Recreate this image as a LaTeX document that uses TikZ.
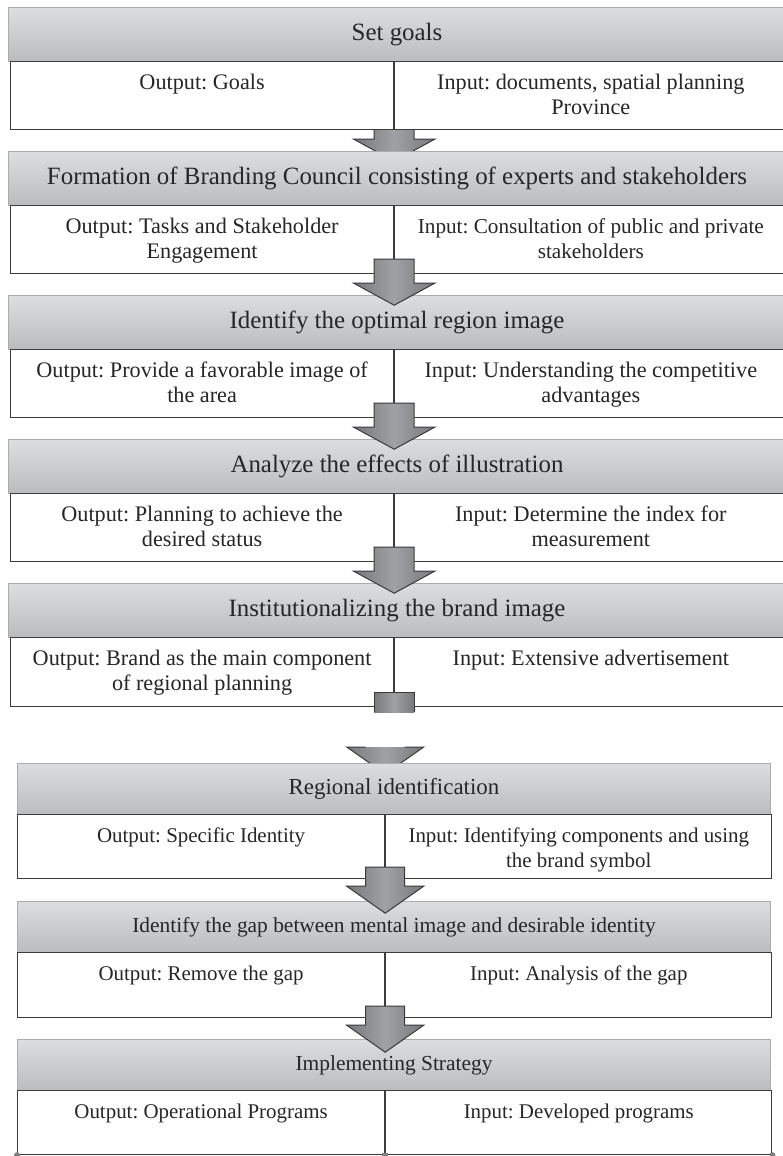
\documentclass[tikz,border=0pt]{standalone}
\usepackage{fontspec}
\setmainfont{Liberation Serif}
\frenchspacing
\usetikzlibrary{positioning,calc,backgrounds}

\definecolor{hdtop}{HTML}{DCDDDF}
\definecolor{hdbot}{HTML}{BBBCBE}
\definecolor{hdline}{HTML}{ABACAE}
\definecolor{boxline}{HTML}{3C3C3C}
\definecolor{arrside}{HTML}{78797C}
\definecolor{arrmid}{HTML}{A0A1A4}
\definecolor{arrline}{HTML}{3A3A3A}
\definecolor{inktext}{HTML}{262626}

\tikzset{
  head/.style={draw=hdline, line width=1bp, top color=hdtop, bottom color=hdbot,
    anchor=north west, inner sep=0pt, text=inktext},
  upperhead/.style={head, minimum width=777bp, minimum height=54bp,
    font=\fontsize{25}{27}\selectfont},
  lowerhead/.style={head, minimum width=753bp, minimum height=51bp,
    font=\fontsize{21.5}{24}\selectfont},
  halfbox/.style={draw=boxline, line width=1.2bp, fill=white, anchor=north west, inner sep=0pt},
  upleft/.style={halfbox, minimum width=383bp, minimum height=68bp},
  upright/.style={halfbox, minimum width=392bp, minimum height=68bp},
  lowleft/.style={halfbox, minimum width=367bp, minimum height=64bp},
  lowright/.style={halfbox, minimum width=386bp, minimum height=64bp},
  uptext/.style={anchor=north, align=center, inner sep=0pt, text=inktext,
    font=\fontsize{22.3}{25}\selectfont},
  lowtext/.style={anchor=north, align=center, inner sep=0pt, text=inktext,
    font=\fontsize{21}{25}\selectfont},
  blockarrow/.style={draw=arrline, line width=1bp, left color=arrside,
    right color=arrside, middle color=arrmid}
}

% block arrow hanging from the divider point of a row
\newcommand{\stepdownup}[1]{%
  \draw[blockarrow] ($(#1)+(-20,-15)$) -- ($(#1)+(20,-15)$) -- ($(#1)+(20,9)$)
    -- ($(#1)+(40.5,9)$) -- ($(#1)+(0,31)$) -- ($(#1)+(-40.5,9)$)
    -- ($(#1)+(-20,9)$) -- cycle;}
\newcommand{\stepdownlow}[1]{%
  \draw[blockarrow] ($(#1)+(-19.5,-12)$) -- ($(#1)+(19.5,-12)$) -- ($(#1)+(19.5,7)$)
    -- ($(#1)+(38.5,7)$) -- ($(#1)+(0,34)$) -- ($(#1)+(-38.5,7)$)
    -- ($(#1)+(-19.5,7)$) -- cycle;}

\begin{document}
\begin{tikzpicture}[x=1bp,y=-1bp]
  \useasboundingbox (0,0) rectangle (783,1156);

  % upper part of the page
  \node[upperhead] (h1) at (8,7) {Set goals};
  \node[upleft] (o1) at (10,61) {};
  \node[upright] (i1) at (o1.north east) {};
  \node[uptext, below=13bp of o1.north] (o1t) {Output: Goals};
  \node[uptext, below=13bp of i1.north] (i1t) {Input: documents, spatial planning\\Province};

  \node[upperhead] (h2) at (8,151) {Formation of Branding Council consisting of experts and stakeholders};
  \node[upleft] (o2) at (10,205) {};
  \node[upright] (i2) at (o2.north east) {};
  \node[uptext, below=13bp of o2.north] (o2t) {Output: Tasks and Stakeholder\\Engagement};
  \node[uptext, below=13bp of i2.north, font=\fontsize{21.3}{25}\selectfont] (i2t) {Input: Consultation of public and private\\stakeholders};

  \node[upperhead] (h3) at (8,295) {Identify the optimal region image};
  \node[upleft] (o3) at (10,349) {};
  \node[upright] (i3) at (o3.north east) {};
  \node[uptext, below=13bp of o3.north] (o3t) {Output: Provide a favorable image of\\the area};
  \node[uptext, below=13bp of i3.north] (i3t) {Input: Understanding the competitive\\advantages};

  \node[upperhead] (h4) at (8,439) {Analyze the effects of illustration};
  \node[upleft] (o4) at (10,493) {};
  \node[upright] (i4) at (o4.north east) {};
  \node[uptext, below=13bp of o4.north] (o4t) {Output: Planning to achieve the\\desired status};
  \node[uptext, below=13bp of i4.north] (i4t) {Input: Determine the index for\\measurement};

  \node[upperhead] (h5) at (8,583) {Institutionalizing the brand image};
  \node[upleft, minimum height=69bp] (o5) at (10,637) {};
  \node[upright, minimum height=69bp] (i5) at (o5.north east) {};
  \node[uptext, below=13bp of o5.north] (o5t) {Output: Brand as the main component\\of regional planning};
  \node[uptext, below=13bp of i5.north] (i5t) {Input: Extensive advertisement};

  % lower part of the page
  \node[lowerhead, font=\fontsize{23}{25}\selectfont] (h6) at (17,763) {Regional identification};
  \node[lowleft] (o6) at (17,814) {};
  \node[lowright] (i6) at (o6.north east) {};
  \node[lowtext, below=14bp of o6.north] (o6t) {Output: Specific Identity};
  \node[lowtext, below=14bp of i6.north] (i6t) {Input: Identifying components and using\\the brand symbol};

  \node[lowerhead] (h7) at (17,901) {Identify the gap between mental image and desirable identity};
  \node[lowleft, minimum height=65bp] (o7) at (17,952) {};
  \node[lowright, minimum height=65bp] (i7) at (o7.north east) {};
  \node[lowtext, below=14bp of o7.north] (o7t) {Output: Remove the gap};
  \node[lowtext, below=14bp of i7.north] (i7t) {Input: Analysis of the gap};

  \node[lowerhead] (h8) at (17,1039) {Implementing Strategy};
  \node[lowleft] (o8) at (17,1090) {};
  \node[lowright] (i8) at (o8.north east) {};
  \node[lowtext, below=14bp of o8.north] (o8t) {Output: Operational Programs};
  \node[lowtext, below=14bp of i8.north] (i8t) {Input: Developed programs};

  % arrows hidden under the next heading
  \begin{pgfonlayer}{background}
    \stepdownup{o1.south east}
    \draw[blockarrow] ($(o6.north east)+(-19.5,-67)$) -- ($(o6.north east)+(-38.5,-67)$)
      -- ($(o6.north east)+(0,-40)$) -- ($(o6.north east)+(38.5,-67)$)
      -- ($(o6.north east)+(19.5,-67)$);
  \end{pgfonlayer}

  % arrows over the headings
  \stepdownup{o2.south east}
  \stepdownup{o3.south east}
  \stepdownup{o4.south east}
  \draw[blockarrow] ($(o5.south east)+(-20,5)$) -- ($(o5.south east)+(-20,-15)$)
    -- ($(o5.south east)+(20,-15)$) -- ($(o5.south east)+(20,5)$);
  \stepdownlow{o6.south east}
  \stepdownlow{o7.south east}

  % handles at the foot of the last box
  \fill[gray] (o8.south west) circle (3bp);
  \fill[gray] (i8.south east) circle (3bp);
  \fill[gray] ($(o8.south east)+(-3,-2)$) rectangle ($(o8.south east)+(3,2)$);
\end{tikzpicture}
\end{document}
